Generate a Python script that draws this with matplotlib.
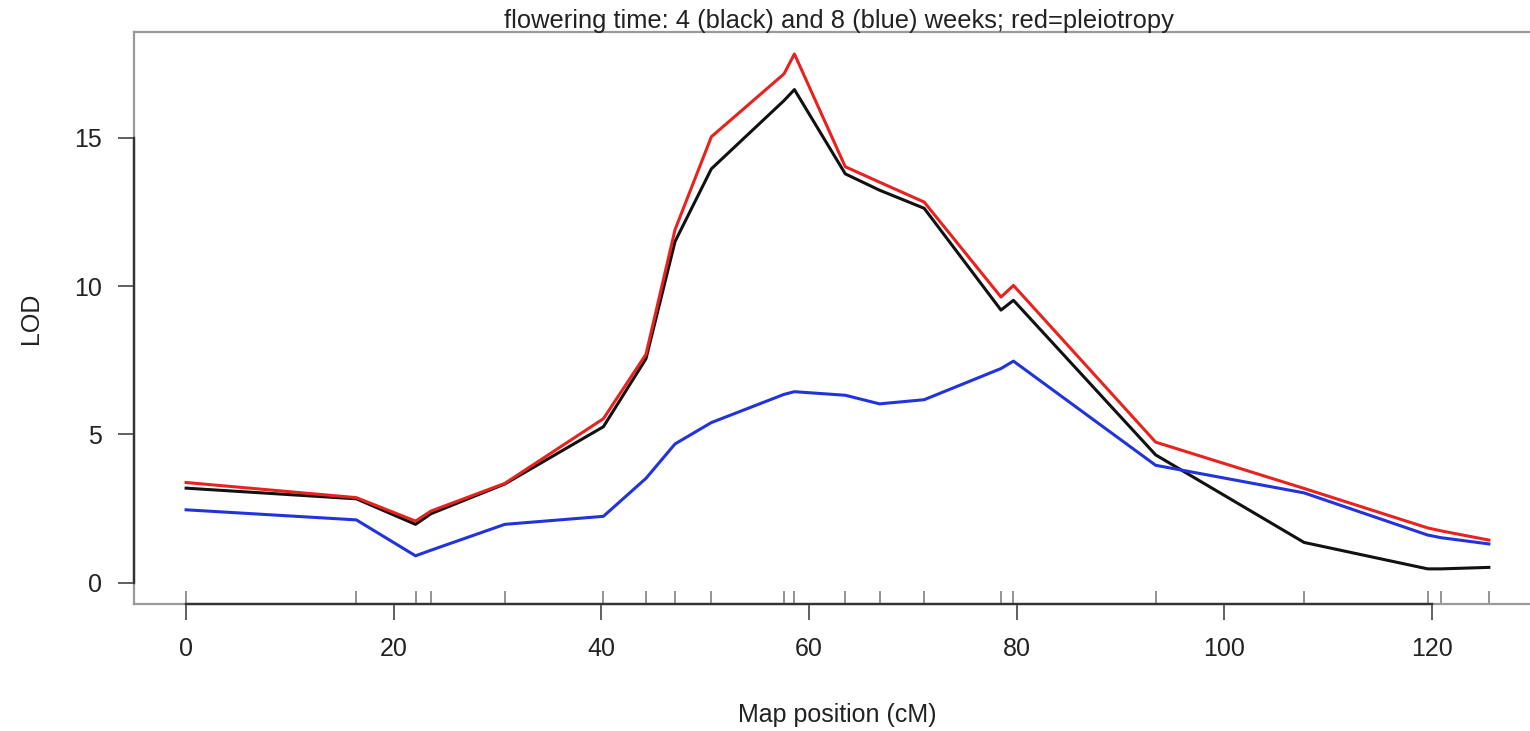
import matplotlib
matplotlib.use('Agg')
import matplotlib.pyplot as plt

# marker positions (cM) and LOD scores
markers = [0, 16.4, 22.1, 23.6, 30.7, 40.2, 44.3, 47.1, 50.6, 57.6, 58.6,
           63.5, 66.8, 71.1, 78.5, 79.7, 93.4, 107.7, 119.6, 120.9, 125.5]
lod_4wk = [3.19, 2.83, 1.97, 2.33, 3.33, 5.26, 7.55, 11.5, 13.95, 16.25, 16.62,
           13.78, 13.23, 12.62, 9.19, 9.52, 4.31, 1.36, 0.47, 0.47, 0.52]
lod_8wk = [2.46, 2.12, 0.91, 1.1, 1.97, 2.24, 3.52, 4.68, 5.4, 6.35, 6.44,
           6.32, 6.03, 6.17, 7.22, 7.47, 3.96, 3.03, 1.61, 1.52, 1.31]
lod_pleio = [3.38, 2.87, 2.08, 2.42, 3.35, 5.53, 7.7, 11.9, 15.03, 17.15, 17.82,
             14.02, 13.5, 12.83, 9.63, 10.02, 4.74, 3.18, 1.85, 1.75, 1.44]

xticks = [0, 20, 40, 60, 80, 100, 120]
yticks = [0, 5, 10, 15]

plt.rcParams['font.family'] = ['Liberation Sans', 'DejaVu Sans']
plt.rcParams['font.size'] = 18

fig = plt.figure(figsize=(15.3, 7.31), dpi=100)
ax = fig.add_axes([0.08758, 0.17373, 0.91961, 0.78249])

ax.plot(markers, lod_4wk, color='#111111', lw=2.2)
ax.plot(markers, lod_8wk, color='#2233dd', lw=2.2)
ax.plot(markers, lod_pleio, color='#e8231f', lw=2.2)

ax.set_xlim(-5.02, 130.52)
ax.set_ylim(-0.714, 18.56)

# rug of marker positions along the bottom
ax.vlines(markers, 0, 0.023, transform=ax.get_xaxis_transform(),
          color='#8a8a8a', lw=1.3)

for s in ax.spines.values():
    s.set_color('#9a9a9a')
    s.set_linewidth(1.6)

# darker R-style axis lines spanning the tick range
y0 = ax.get_ylim()[0]
x0 = ax.get_xlim()[0]
ax.plot([xticks[0], xticks[-1]], [y0, y0], color='#333333', lw=1.7,
        clip_on=False, zorder=3)
ax.plot([x0, x0], [yticks[0], yticks[-1]], color='#333333', lw=1.7,
        clip_on=False, zorder=3)

ax.set_xticks(xticks)
ax.set_yticks(yticks)
ax.tick_params(axis='x', direction='out', length=11.5, width=1.2, color='#444444',
               pad=12, labelcolor='#222222')
ax.tick_params(axis='y', direction='out', length=11.5, width=1.2, color='#444444',
               pad=11.5, labelcolor='#222222')

ax.set_xlabel('Map position (cM)', color='#222222')
ax.set_ylabel('LOD', color='#222222')
ax.xaxis.set_label_coords(0.5, -0.1733)
ax.yaxis.set_label_coords(-0.0647, 0.5)

fig.text(0.548, 0.9617, 'flowering time: 4 (black) and 8 (blue) weeks; red=pleiotropy',
         ha='center', va='baseline', color='#222222', fontsize=18.4)

fig.savefig('out.png', dpi=100)
